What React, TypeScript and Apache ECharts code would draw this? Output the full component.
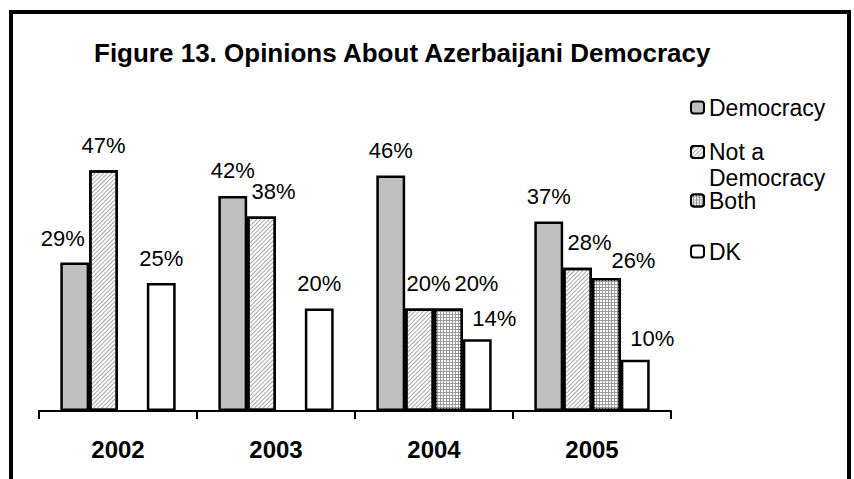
import React, { useEffect, useRef } from 'react';
import * as echarts from 'echarts';

const TITLE = 'Figure 13. Opinions About Azerbaijani Democracy';
const years = ['2002', '2003', '2004', '2005'];
const seriesNames = ['Democracy', 'Not a Democracy', 'Both', 'DK'];
const democracy = [29, 42, 46, 37];
const notDemocracy = [47, 38, 20, 28];
const both: (number | null)[] = [null, null, 20, 26];
const dk = [25, 20, 14, 10];

// label nudges in px [dx, dy], per series, per year (style only)
const labelShift: Record<string, number[][]> = {
  'Democracy': [[-12, 1], [0, 0], [0, 0], [0, 0]],
  'Not a Democracy': [[0, 0], [12, 0], [9, 0], [12, 0]],
  'Both': [[0, 0], [0, 0], [28, 0], [27, 8]],
  'DK': [[0, 0], [0, 0], [17, 4], [17, 4]],
};

const FONT = '"Liberation Sans", Arial, Helvetica, sans-serif';

export default function App() {
  const ref = useRef<HTMLDivElement>(null);
  useEffect(() => {
    if (!ref.current) return;
    const chart = echarts.init(ref.current, undefined, { renderer: 'svg' });
    const valuesBySeries: Record<string, (number | null)[]> = {
      'Democracy': democracy,
      'Not a Democracy': notDemocracy,
      'Both': both,
      'DK': dk,
    };
    const styles: Record<string, any> = {
      'Democracy': { color: '#c0c0c0' },
      'Not a Democracy': {
        color: '#ffffff',
        decal: { symbol: 'rect', symbolSize: 1, color: '#a6a6a6', dashArrayX: [1, 0], dashArrayY: [1, 1.6], rotation: -Math.PI / 4 },
      },
      'Both': {
        color: '#9a9a9a',
        decal: { symbol: 'rect', symbolSize: 1, color: '#ffffff', dashArrayX: [2, 1], dashArrayY: [2, 1], rotation: 0 },
      },
      'DK': { color: '#ffffff' },
    };
    const series = seriesNames.map((name) => ({
      name,
      type: 'bar',
      barGap: '0%',
      barCategoryGap: '27%',
      itemStyle: { ...styles[name], borderColor: '#000', borderWidth: 2.5 },
      label: {
        show: true,
        position: 'top',
        distance: 14,
        formatter: '{c}%',
        fontSize: 22,
        color: '#000',
        fontFamily: FONT,
      },
      data: valuesBySeries[name].map((v, i) =>
        v == null ? null : { value: v, label: { offset: labelShift[name][i] } }
      ),
    }));

    const legendBase = {
      orient: 'vertical',
      left: 690,
      padding: 0,
      itemWidth: 13,
      itemHeight: 12,
      itemGap: 0,
      itemStyle: { borderColor: '#000', borderWidth: 2 },
      textStyle: { fontSize: 23, lineHeight: 22, color: '#000', fontFamily: FONT },
      selectedMode: false,
    };

    chart.setOption({
      animation: false,
      backgroundColor: '#ffffff',
      title: {
        text: TITLE,
        left: 94,
        top: 40,
        padding: 0,
        textStyle: { fontSize: 26, fontWeight: 'bold', color: '#000', fontFamily: FONT },
      },
      legend: [
        { ...legendBase, top: 96, data: ['Democracy'] },
        {
          ...legendBase,
          top: 113,
          data: ['Not a Democracy'],
          formatter: () => '\nNot a\nDemocracy',
          textStyle: { ...legendBase.textStyle, lineHeight: 26 },
        },
        { ...legendBase, top: 189, data: ['Both'] },
        { ...legendBase, top: 240, data: ['DK'] },
      ],
      grid: { left: 39, width: 632, top: 155, bottom: 68 },
      xAxis: {
        type: 'category',
        data: years,
        axisLine: { lineStyle: { color: '#000', width: 2 } },
        axisTick: { show: true, length: 8, lineStyle: { color: '#000', width: 2 } },
        axisLabel: { margin: 26, fontSize: 24, fontWeight: 'bold', color: '#000', fontFamily: FONT },
      },
      yAxis: { type: 'value', min: 0, max: 50, show: false },
      graphic: [
        {
          type: 'rect',
          shape: { x: 11, y: 12, width: 838, height: 540 },
          style: { fill: 'none', stroke: '#000', lineWidth: 4 },
          silent: true,
          z: 100,
        },
      ],
      series,
    });
    return () => chart.dispose();
  }, []);
  return (
    <div
      ref={ref}
      style={{ position: 'fixed', left: 0, top: 0, width: 854, height: 479, background: '#fff' }}
    />
  );
}
